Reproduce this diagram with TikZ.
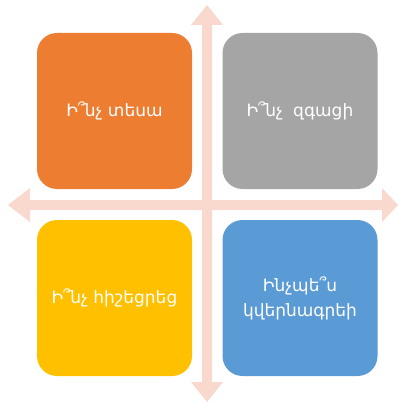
\documentclass[tikz,border=0pt]{standalone}
\usepackage{fontspec}
\newfontfamily\armfont{DejaVu Sans}
\definecolor{arrowc}{HTML}{F9D8CD}
\definecolor{c1}{HTML}{ED7D31}
\definecolor{c2}{HTML}{A5A5A5}
\definecolor{c3}{HTML}{FFC000}
\definecolor{c4}{HTML}{5B9BD5}
\begin{document}
\begin{tikzpicture}[x=1pt,y=-1pt,
  quad/.style={rounded corners=20pt, minimum width=155pt, minimum height=156pt, inner sep=0pt, text=white, align=center, font=\armfont\fontsize{17}{25}\selectfont},
  arr/.style={fill=arrowc, draw=none}]
\useasboundingbox (0,0) rectangle (398,403);
% vertical double arrow
\fill[arr] (207,5) -- (223,25) -- (212,25) -- (212,382) -- (223,382) -- (207,402) -- (191,382) -- (202,382) -- (202,25) -- (191,25) -- cycle;
% horizontal double arrow
\fill[arr] (8,205) -- (30,188) -- (30,200) -- (382,200) -- (382,188) -- (398,205) -- (382,222) -- (382,210) -- (30,210) -- (30,222) -- cycle;
\node[quad, fill=c1] (a) at (114.5,111) {Ի՞նչ տեսա};
\node[quad, fill=c2] (b) at (300,111) {Ի՞նչ\hspace{0.6em}զգացի};
\node[quad, fill=c3] (c) at (114.5,298) {Ի՞նչ հիշեցրեց};
\node[quad, fill=c4] (d) at (300,298) {Ինչպե՞ս\\կվերնագրեի};
\end{tikzpicture}
\end{document}
